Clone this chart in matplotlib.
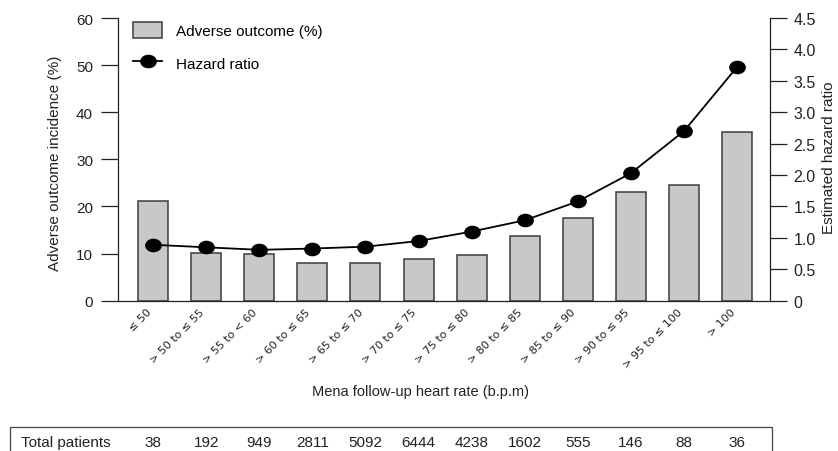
import matplotlib
matplotlib.use("Agg")
import matplotlib.pyplot as plt
import matplotlib.transforms as mtransforms
from matplotlib.path import Path
from matplotlib.patches import Rectangle, Patch
from matplotlib.lines import Line2D
import numpy as np

# Heart-rate bins (b.p.m) and per-bin results
categories = ["≤ 50", "> 50 to ≤ 55", "> 55 to < 60", "> 60 to ≤ 65", "> 65 to ≤ 70",
              "> 70 to ≤ 75", "> 75 to ≤ 80", "> 80 to ≤ 85", "> 85 to ≤ 90",
              "> 90 to ≤ 95", "> 95 to ≤ 100", "> 100"]
adverse_pct = [21.1, 10.1, 9.9, 8.1, 8.1, 8.8, 9.8, 13.8, 17.6, 23.1, 24.5, 35.7]
hazard_ratio = [0.89, 0.85, 0.81, 0.83, 0.86, 0.95, 1.10, 1.28, 1.58, 2.03, 2.70, 3.72]
total_patients = [38, 192, 949, 2811, 5092, 6444, 4238, 1602, 555, 146, 88, 36]

left_ticks = [0, 10, 20, 30, 40, 50, 60]
right_ticks = [0, 0.5, 1.0, 1.5, 2.0, 2.5, 3.0, 3.5, 4.0, 4.5]
right_tick_labels = ["0", "0.5", "1.0", "1.5", "2.0", "2.5", "3.0", "3.5", "4.0", "4.5"]

plt.rcParams["font.family"] = ["Liberation Sans", "DejaVu Sans"]
INK = "#222222"

W, H = 838, 452
fig = plt.figure(figsize=(W / 100, H / 100), dpi=100)
ax = fig.add_axes([118 / W, 1 - 301.7 / H, (770 - 118) / W, (301.7 - 19) / H])
ax2 = ax.twinx()

x = np.arange(len(categories))
ax.bar(x, adverse_pct, width=0.565, color="#c8c8c8", edgecolor="#3c3c3c",
       linewidth=1.1, zorder=2)

# slightly flattened dot marker
circ = Path.unit_circle()
dot = Path(circ.vertices * np.array([1.0, 0.8]), circ.codes)
ax2.plot(x, hazard_ratio, color="black", linewidth=1.3, marker=dot,
         markersize=11, markerfacecolor="black", markeredgecolor="black", zorder=3)

ax.set_xlim(-0.66, len(categories) - 1 + 0.62)
ax.set_ylim(0, 60)
ax2.set_ylim(0, 4.5)

ax.set_yticks(left_ticks)
ax.set_yticklabels([str(t) for t in left_ticks])
ax2.set_yticks(right_ticks)
ax2.set_yticklabels(right_tick_labels)

ax.set_xticks(x)
ax.set_xticklabels(categories, rotation=45, ha="right", fontsize=8,
                   family=["DejaVu Sans"], color=INK)
ax.tick_params(axis="x", length=0, pad=4)
ax.tick_params(axis="y", direction="out", length=12, width=0.9, color=INK,
               labelsize=11, labelcolor=INK, pad=6)
ax2.tick_params(axis="y", direction="out", length=12, width=0.9, color=INK,
                labelsize=11.5, labelcolor=INK, pad=5)

for a in (ax, ax2):
    a.spines["top"].set_visible(False)
    for s in ("left", "right", "bottom"):
        a.spines[s].set_color(INK)
        a.spines[s].set_linewidth(0.9)
ax.spines["right"].set_visible(False)
ax2.spines["left"].set_visible(False)
ax2.spines["bottom"].set_visible(False)

fig.text(55 / W, 1 - 163 / H, "Adverse outcome incidence (%)", rotation=90,
         ha="center", va="center", fontsize=11, color=INK)
fig.text(836 / W, 1 - 158 / H, "Estimated hazard ratio", rotation=90,
         ha="right", va="center", fontsize=11, color=INK)
fig.text(420 / W, 1 - 392 / H, "Mena follow-up heart rate (b.p.m)",
         ha="center", va="center", fontsize=10.5, color=INK)

handles = [Patch(facecolor="#c8c8c8", edgecolor="#3c3c3c", linewidth=1.1),
           Line2D([], [], color="black", linewidth=1.3, marker=dot, markersize=11,
                  markerfacecolor="black")]
ax.legend(handles, ["Adverse outcome (%)", "Hazard ratio"], loc="upper left",
          bbox_to_anchor=(0.0, 1.039), frameon=False, fontsize=11,
          handlelength=1.9, handleheight=1.2, handletextpad=0.9,
          labelspacing=1.08, borderaxespad=0.6)

# patient counts row beneath the chart
fig.patches.append(Rectangle((10 / W, -0.05), (772 - 10) / W, 0.05 + (452 - 428) / H,
                             transform=fig.transFigure, fill=False,
                             edgecolor="#444444", linewidth=0.9))
row_y = 1 - 443 / H
fig.text(21 / W, row_y, "Total patients", ha="left", va="center", fontsize=11, color=INK)
row_tr = mtransforms.blended_transform_factory(ax.transData, fig.transFigure)
for xi, n in zip(x, total_patients):
    ax.text(xi, row_y, str(n), transform=row_tr, ha="center", va="center",
            fontsize=11, color=INK, clip_on=False)

fig.savefig("out.png", dpi=100)
